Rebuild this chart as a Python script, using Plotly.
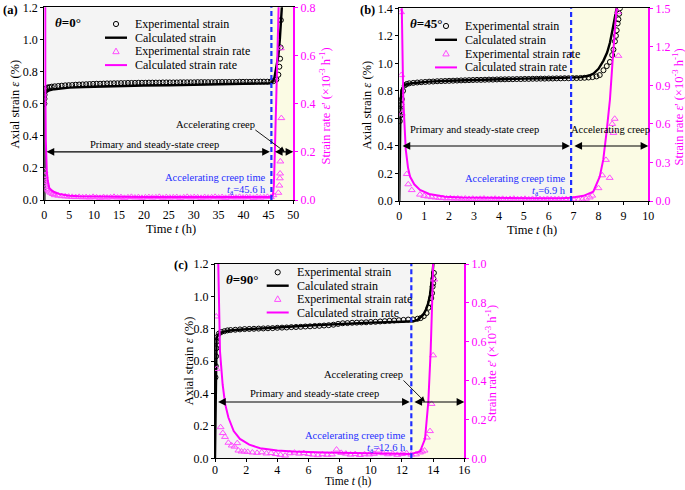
import plotly.graph_objects as go

# ---------------- data: panel (a) theta = 0 deg ----------------
T_EXP_A = [0.02, 0.04, 0.06, 0.08, 0.10, 0.3, 0.6, 1.0, 1.5,
           2.1, 2.8, 3.5, 4.2, 4.9, 5.6, 6.3, 7.0, 7.7,
           8.4, 9.1, 9.8, 10.5, 11.2, 11.9, 12.6, 13.3, 14.0,
           14.7, 15.4, 16.1, 16.8, 17.5, 18.2, 18.9, 19.6, 20.3,
           21.0, 21.7, 22.4, 23.1, 23.8, 24.5, 25.2, 25.9, 26.6,
           27.3, 28.0, 28.7, 29.4, 30.1, 30.8, 31.5, 32.2, 32.9,
           33.6, 34.3, 35.0, 35.7, 36.4, 37.1, 37.8, 38.5, 39.2,
           39.9, 40.6, 41.3, 42.0, 42.7, 43.4, 44.1, 44.8, 45.5,
           46.0, 46.6, 47.0, 47.2, 47.35, 47.45, 47.5]
STRAIN_EXP_A = [0.60, 0.63, 0.655, 0.675, 0.69, 0.695, 0.70, 0.703, 0.706,
                0.708, 0.710, 0.712, 0.714, 0.715, 0.716, 0.718, 0.719, 0.720,
                0.721, 0.722, 0.723, 0.724, 0.724, 0.725, 0.726, 0.726, 0.727,
                0.727, 0.728, 0.728, 0.729, 0.729, 0.729, 0.730, 0.730, 0.730,
                0.731, 0.731, 0.731, 0.731, 0.732, 0.732, 0.732, 0.732, 0.732,
                0.733, 0.733, 0.733, 0.733, 0.733, 0.734, 0.734, 0.734, 0.734,
                0.734, 0.734, 0.735, 0.735, 0.735, 0.735, 0.735, 0.735, 0.736,
                0.736, 0.736, 0.736, 0.736, 0.737, 0.737, 0.737, 0.737, 0.738,
                0.74, 0.75, 0.78, 0.83, 0.88, 0.95, 1.12]
T_CALC_A = [0, 0.02, 0.05, 0.1, 0.3, 0.5, 1, 2, 3, 5, 8, 12, 16, 20, 25, 30, 35,
            40, 44, 45.6, 46.2, 46.6, 47.0, 47.3, 47.5, 47.7, 47.9]
STRAIN_CALC_A = [0, 0.45, 0.64, 0.665, 0.672, 0.676, 0.683, 0.69, 0.694, 0.70, 0.704,
                 0.708, 0.711, 0.713, 0.715, 0.717, 0.719, 0.721, 0.723, 0.727, 0.76,
                 0.82, 0.90, 1.0, 1.1, 1.2, 1.3]
T_RATE_EXP_A = [0.05, 0.08, 0.12, 0.2, 0.3, 0.45, 0.6, 0.8, 1.0, 1.3, 1.7,
                2.1, 2.8, 3.5, 4.2, 4.9, 5.6, 6.3, 7.0, 7.7,
                8.4, 9.1, 9.8, 10.5, 11.2, 11.9, 12.6, 13.3, 14.0,
                14.7, 15.4, 16.1, 16.8, 17.5, 18.2, 18.9, 19.6, 20.3,
                21.0, 21.7, 22.4, 23.1, 23.8, 24.5, 25.2, 25.9, 26.6,
                27.3, 28.0, 28.7, 29.4, 30.1, 30.8, 31.5, 32.2, 32.9,
                33.6, 34.3, 35.0, 35.7, 36.4, 37.1, 37.8, 38.5, 39.2,
                39.9, 40.6, 41.3, 42.0, 42.7, 43.4, 44.1, 44.8, 45.5,
                46.0, 47.0, 47.2, 47.3, 47.35, 47.4, 47.5, 47.6]
RATE_EXP_A = [0.12, 0.10, 0.085, 0.075, 0.065, 0.055, 0.045, 0.04, 0.035, 0.03, 0.025,
              0.020, 0.018, 0.016, 0.015, 0.014, 0.013, 0.012, 0.013, 0.011,
              0.012, 0.010, 0.013, 0.011, 0.009, 0.012, 0.010, 0.011, 0.013,
              0.010, 0.012, 0.009, 0.011, 0.013, 0.010, 0.012, 0.009, 0.011,
              0.012, 0.010, 0.011, 0.013, 0.009, 0.012, 0.010, 0.011, 0.012,
              0.009, 0.011, 0.013, 0.010, 0.012, 0.011, 0.009, 0.012, 0.010,
              0.011, 0.013, 0.010, 0.012, 0.009, 0.011, 0.012, 0.010, 0.013,
              0.010, 0.012, 0.011, 0.009, 0.012, 0.010, 0.011, 0.013, 0.012,
              0.02, 0.03, 0.06, 0.09, 0.11, 0.16, 0.63, 0.34]
T_RATE_CALC_A = [0.05, 0.1, 0.15, 0.2, 0.3, 0.4, 0.5, 0.7, 1.0, 1.5, 2, 3, 4, 5, 7, 10,
                 15, 20, 25, 30, 35, 40, 45, 45.6, 45.9, 46.1, 46.3, 46.5, 46.7, 46.9,
                 47.1, 47.3]
RATE_CALC_A = [5.0, 1.5, 0.8, 0.5, 0.25, 0.17, 0.12, 0.08, 0.05, 0.04, 0.033, 0.025,
               0.021, 0.018, 0.016, 0.014, 0.013, 0.012, 0.012, 0.011, 0.011, 0.011,
               0.011, 0.012, 0.02, 0.06, 0.2, 0.35, 0.5, 0.65, 0.8, 1.0]

# ---------------- data: panel (b) theta = 45 deg ----------------
T_EXP_B = [0.02, 0.04, 0.06, 0.08, 0.10, 0.15, 0.22, 0.3, 0.4,
           0.56, 0.72, 0.88, 1.04, 1.20, 1.36, 1.52, 1.68,
           1.84, 2.00, 2.16, 2.32, 2.48, 2.64, 2.80, 2.96,
           3.12, 3.28, 3.44, 3.60, 3.76, 3.92, 4.08, 4.24,
           4.40, 4.56, 4.72, 4.88, 5.04, 5.20, 5.36, 5.52,
           5.68, 5.84, 6.00, 6.16, 6.32, 6.48, 6.64, 6.80,
           6.96, 7.12, 7.28, 7.44, 7.60, 7.76,
           7.92, 8.05, 8.2, 8.33, 8.46, 8.55, 8.6, 8.66, 8.7, 8.73, 8.77, 8.8, 8.83, 8.86]
STRAIN_EXP_B = [0.58, 0.62, 0.66, 0.70, 0.74, 0.80, 0.84, 0.85, 0.855,
                0.858, 0.861, 0.863, 0.865, 0.867, 0.868, 0.870, 0.871,
                0.872, 0.873, 0.874, 0.875, 0.876, 0.877, 0.878, 0.879,
                0.880, 0.880, 0.881, 0.882, 0.882, 0.883, 0.884, 0.884,
                0.885, 0.885, 0.886, 0.886, 0.887, 0.887, 0.888, 0.888,
                0.889, 0.889, 0.890, 0.890, 0.891, 0.891, 0.892, 0.892,
                0.893, 0.893, 0.894, 0.895, 0.897, 0.900,
                0.905, 0.915, 0.95, 0.98, 1.01, 1.06, 1.10, 1.16, 1.20, 1.24, 1.29, 1.32,
                1.36, 1.40]
T_CALC_B = [0, 0.02, 0.05, 0.08, 0.12, 0.2, 0.3, 0.5, 0.8, 1.2, 2, 3, 4, 5, 6, 6.9,
            7.3, 7.6, 7.8, 8.0, 8.2, 8.35, 8.46, 8.56, 8.66, 8.75, 8.85]
STRAIN_CALC_B = [0, 0.45, 0.72, 0.79, 0.82, 0.84, 0.848, 0.856, 0.862, 0.867, 0.874,
                 0.88, 0.885, 0.889, 0.892, 0.895, 0.90, 0.91, 0.926, 0.96, 1.02, 1.08,
                 1.15, 1.24, 1.34, 1.42, 1.52]
T_RATE_EXP_B = [0.07, 0.08, 0.1, 0.3, 0.36, 0.5, 0.83, 1.0, 1.15, 1.3, 1.45,
                1.60, 1.75, 1.90, 2.05, 2.20, 2.35, 2.50, 2.65, 2.80,
                2.95, 3.10, 3.25, 3.40, 3.55, 3.70, 3.85, 4.00, 4.15,
                4.30, 4.45, 4.60, 4.75, 4.90, 5.05, 5.20, 5.35, 5.50,
                5.65, 5.80, 5.95, 6.10, 6.25, 6.40, 6.55, 6.70, 6.85,
                7.00, 7.2, 7.35, 7.5, 7.65, 7.75, 8.0, 8.15, 8.3, 8.45, 8.55, 8.6,
                8.65, 8.78, 8.8]
RATE_EXP_B = [1.47, 0.98, 0.68, 0.21, 0.13, 0.085, 0.05, 0.04, 0.035, 0.03, 0.028,
              0.024, 0.022, 0.020, 0.022, 0.018, 0.020, 0.017, 0.019, 0.016,
              0.018, 0.015, 0.017, 0.019, 0.014, 0.016, 0.018, 0.015, 0.017,
              0.013, 0.016, 0.018, 0.014, 0.015, 0.017, 0.013, 0.016, 0.014,
              0.015, 0.012, 0.016, 0.014, 0.013, 0.015, 0.012, 0.014, 0.013,
              0.012, 0.010, 0.012, 0.018, 0.028, 0.042, 0.10, 0.20, 0.32, 0.18, 0.60,
              0.53, 0.64, 1.47, 1.13]
T_RATE_CALC_B = [0.04, 0.07, 0.1, 0.16, 0.26, 0.35, 0.43, 0.6, 0.83, 1.2, 1.84, 2.5,
                 3.5, 4.5, 5.5, 6.5, 6.9, 7.4, 7.79, 8.05, 8.19, 8.32, 8.46, 8.57, 8.65,
                 8.73, 8.8]
RATE_CALC_B = [4.0, 2.2, 1.5, 0.79, 0.40, 0.26, 0.19, 0.13, 0.086, 0.055, 0.034, 0.028,
               0.024, 0.022, 0.021, 0.022, 0.025, 0.04, 0.072, 0.19, 0.32, 0.53, 0.79,
               1.1, 1.3, 1.51, 1.7]

# ---------------- data: panel (c) theta = 90 deg ----------------
T_EXP_C = [0.03, 0.05, 0.07, 0.09, 0.11, 0.15, 0.25, 0.4, 0.6, 0.8,
           1.0, 1.3, 1.6, 1.9, 2.2, 2.5, 2.8, 3.1,
           3.4, 3.7, 4.0, 4.3, 4.6, 4.9, 5.2, 5.5,
           5.8, 6.1, 6.4, 6.7, 7.0, 7.3, 7.6, 7.9,
           8.2, 8.5, 8.8, 9.1, 9.4, 9.7, 10.0, 10.3,
           10.6, 10.9, 11.2, 11.5, 11.8, 12.1, 12.4, 12.7,
           13.0, 13.2, 13.4, 13.58, 13.7, 13.8, 13.88, 13.93, 13.97, 14.0, 14.02, 14.05]
STRAIN_EXP_C = [0.50, 0.57, 0.63, 0.68, 0.72, 0.75, 0.77, 0.78, 0.785, 0.79,
                0.792, 0.794, 0.796, 0.798, 0.799, 0.800, 0.801, 0.802,
                0.803, 0.804, 0.806, 0.807, 0.808, 0.810, 0.811, 0.812,
                0.814, 0.815, 0.817, 0.818, 0.820, 0.822, 0.825, 0.830,
                0.834, 0.835, 0.837, 0.838, 0.839, 0.840, 0.842, 0.843,
                0.845, 0.847, 0.849, 0.851, 0.853, 0.855, 0.857, 0.858,
                0.862, 0.866, 0.878, 0.897, 0.93, 0.96, 0.99, 1.02, 1.06, 1.08, 1.11, 1.145]
T_CALC_C = [0, 0.03, 0.06, 0.1, 0.2, 0.32, 0.6, 0.96, 1.5, 2.9, 4, 6, 8, 10, 12, 12.73,
            13.0, 13.37, 13.55, 13.69, 13.8, 13.9, 13.97, 14.03, 14.1]
STRAIN_CALC_C = [0, 0.4, 0.65, 0.74, 0.765, 0.773, 0.782, 0.789, 0.794, 0.80, 0.808,
                 0.82, 0.83, 0.838, 0.843, 0.846, 0.855, 0.887, 0.92, 0.96, 1.01, 1.08,
                 1.15, 1.22, 1.3]
T_RATE_EXP_C = [0.08, 0.1, 0.36, 0.5, 0.64, 0.86, 1.07, 1.25, 1.43, 1.5, 1.7, 1.9,
                2.1, 2.4, 2.7, 3.0, 3.3, 3.6, 3.9, 4.2, 4.5,
                4.8, 5.1, 5.4, 5.7, 6.0, 6.3, 6.6, 6.9, 7.2,
                7.5, 7.8, 8.1, 8.4, 8.7, 9.0, 9.3, 9.6, 9.9,
                10.2, 10.5, 10.8, 11.1, 11.4, 11.7, 12.0, 12.3, 12.6,
                12.9, 13.16, 13.3, 13.45, 13.6, 13.8, 13.9, 14.0, 14.07]
RATE_EXP_C = [0.73, 0.46, 0.16, 0.13, 0.11, 0.08, 0.066, 0.06, 0.078, 0.04, 0.035, 0.035,
              0.033, 0.030, 0.028, 0.031, 0.025, 0.027, 0.022, 0.018, 0.014,
              0.026, 0.029, 0.024, 0.027, 0.022, 0.019, 0.016, 0.021, 0.018,
              0.020, 0.045, 0.028, 0.024, 0.019, 0.022, 0.017, 0.021, 0.020,
              0.023, 0.040, 0.026, 0.021, 0.024, 0.018, 0.022, 0.026, 0.019,
              0.02, 0.03, 0.035, 0.04, 0.107, 0.14, 0.28, 0.53, 0.92]
T_RATE_CALC_C = [0.1, 0.21, 0.32, 0.49, 0.65, 0.86, 1.2, 1.6, 2.2, 2.9, 4, 5, 7, 9, 11,
                 12.6, 13.16, 13.48, 13.69, 13.84, 13.94, 14.0, 14.06]
RATE_CALC_C = [3.0, 1.0, 0.55, 0.38, 0.28, 0.21, 0.14, 0.10, 0.07, 0.052, 0.04, 0.035,
               0.03, 0.027, 0.025, 0.022, 0.035, 0.10, 0.29, 0.55, 0.81, 1.0, 1.2]

# accelerating creep times
TA = [45.6, 6.9, 12.6]
THETA_LABELS = ["0°", "45°", "90°"]
PANEL_LABELS = ["(a)", "(b)", "(c)"]

# ticks
X_TICKS = [[0, 5, 10, 15, 20, 25, 30, 35, 40, 45, 50],
           [0, 1, 2, 3, 4, 5, 6, 7, 8, 9, 10],
           [0, 2, 4, 6, 8, 10, 12, 14, 16]]
Y_TICKS = [[0.0, 0.2, 0.4, 0.6, 0.8, 1.0, 1.2],
           [0.0, 0.2, 0.4, 0.6, 0.8, 1.0, 1.2, 1.4],
           [0.0, 0.2, 0.4, 0.6, 0.8, 1.0, 1.2]]
Y2_TICKS = [[0.0, 0.2, 0.4, 0.6, 0.8],
            [0.0, 0.3, 0.6, 0.9, 1.2, 1.5],
            [0.0, 0.2, 0.4, 0.6, 0.8, 1.0]]
X_RANGES = [[0, 50], [0, 10], [0, 16]]
Y_RANGES = [[0, 1.2], [0, 1.4], [0, 1.2]]
Y2_RANGES = [[0, 0.8], [0, 1.5], [0, 1.0]]

# ---------------- styling / layout helpers ----------------
W, H = 685, 490
FONT = "Liberation Serif, Times New Roman, serif"
MAG = "#ff00ff"
TRI = "#ff4dff"
BLUE = "#1f2fff"
GRAY_BG = "#f4f4f4"
YEL_BG = "#fbfbe4"


def px(x):
    return x / W


def py(y):
    return 1 - y / H


# plot-area boxes in pixels: (left, right, top, bottom)
BOXES = [(44.3, 293.3, 7.3, 200.0),
         (399.3, 648.3, 8.3, 201.0),
         (215.0, 464.3, 264.0, 458.3)]
PANEL_LABEL_POS = [(0.5, 10), (357.5, 10), (171.5, 265)]
LEFT_TITLE_DX = [-29.5, -32.5, -26.0]
RIGHT_TITLE_DX = [31.5, 29.5, 26.5]
XTITLE_DX = [2.5, 8.5, 8.0]
XTITLE_DY = [29.5, 29.0, None]   # panel (c): title sits on the bottom edge
XTICK_STANDOFF = [0, 0, -3]

data = [
    (T_EXP_A, STRAIN_EXP_A, T_CALC_A, STRAIN_CALC_A, T_RATE_EXP_A, RATE_EXP_A, T_RATE_CALC_A, RATE_CALC_A),
    (T_EXP_B, STRAIN_EXP_B, T_CALC_B, STRAIN_CALC_B, T_RATE_EXP_B, RATE_EXP_B, T_RATE_CALC_B, RATE_CALC_B),
    (T_EXP_C, STRAIN_EXP_C, T_CALC_C, STRAIN_CALC_C, T_RATE_EXP_C, RATE_EXP_C, T_RATE_CALC_C, RATE_CALC_C),
]

fig = go.Figure()
layout = {}
shapes = []
annotations = []

for i in range(3):
    xn = "x" if i == 0 else f"x{i + 1}"
    yl = "y" if i == 0 else f"y{2 * i + 1}"
    yr = f"y{2 * i + 2}"
    xkey = "xaxis" if i == 0 else f"xaxis{i + 1}"
    ylkey = "yaxis" if i == 0 else f"yaxis{2 * i + 1}"
    yrkey = f"yaxis{2 * i + 2}"
    L, R, T, B = BOXES[i]
    te, se, tc, sc, tre, re, trc, rc = data[i]

    fig.add_trace(go.Scatter(x=te, y=se, xaxis=xn, yaxis=yl, mode="markers",
                             marker=dict(symbol="circle-open", size=5, color="black",
                                         line=dict(width=1, color="black")),
                             showlegend=False))
    fig.add_trace(go.Scatter(x=tc, y=sc, xaxis=xn, yaxis=yl, mode="lines",
                             line=dict(color="black", width=2.4), showlegend=False))
    fig.add_trace(go.Scatter(x=tre, y=re, xaxis=xn, yaxis=yr, mode="markers",
                             marker=dict(symbol="triangle-up-open", size=6, color=TRI,
                                         line=dict(width=1, color=TRI)),
                             showlegend=False))
    fig.add_trace(go.Scatter(x=trc, y=rc, xaxis=xn, yaxis=yr, mode="lines",
                             line=dict(color=MAG, width=2), showlegend=False))

    tickfont = dict(family=FONT, size=12, color="black")
    layout[xkey] = dict(domain=[px(L), px(R)], anchor=yl, range=X_RANGES[i],
                        tickvals=X_TICKS[i], ticktext=[str(v) for v in X_TICKS[i]],
                        showline=True, linecolor="black", linewidth=1.2, mirror=True,
                        ticks="outside", ticklen=3, tickwidth=1, tickcolor="black",
                        ticklabelstandoff=XTICK_STANDOFF[i],
                        tickfont=tickfont, showgrid=False, zeroline=False,
                        automargin=False)
    layout[ylkey] = dict(domain=[py(B), py(T)], anchor=xn, range=Y_RANGES[i],
                         tickvals=Y_TICKS[i], tickformat=".1f",
                         showline=True, linecolor="black", linewidth=1.2,
                         ticks="outside", ticklen=3, tickwidth=1, tickcolor="black",
                         tickfont=tickfont, showgrid=False, zeroline=False,
                         automargin=False)
    layout[yrkey] = dict(domain=[py(B), py(T)], anchor=xn, overlaying=yl, side="right",
                         range=Y2_RANGES[i], tickvals=Y2_TICKS[i], tickformat=".1f",
                         showline=True, linecolor=MAG, linewidth=1.6,
                         ticks="outside", ticklen=3, tickwidth=1, tickcolor=MAG,
                         tickfont=dict(family=FONT, size=12, color=MAG),
                         showgrid=False, zeroline=False, automargin=False)

    ta = TA[i]
    # background shading
    shapes.append(dict(type="rect", xref=xn, yref=f"{yl} domain", x0=X_RANGES[i][0], x1=ta,
                       y0=0, y1=1, fillcolor=GRAY_BG, line=dict(width=0), layer="below"))
    shapes.append(dict(type="rect", xref=xn, yref=f"{yl} domain", x0=ta, x1=X_RANGES[i][1],
                       y0=0, y1=1, fillcolor=YEL_BG, line=dict(width=0), layer="below"))
    # dashed line at accelerating creep time
    shapes.append(dict(type="line", xref=xn, yref=f"{yl} domain", x0=ta, x1=ta, y0=0, y1=1,
                       line=dict(color=BLUE, width=2.2, dash="5px,3px"), layer="above"))

    # axis titles
    cx = (L + R) / 2
    cy = (T + B) / 2
    if XTITLE_DY[i] is None:
        annotations.append(dict(x=px(cx + XTITLE_DX[i]), y=0, xref="paper", yref="paper",
                                text="Time <i>t</i> (h)", showarrow=False,
                                font=dict(family=FONT, size=11.5, color="black"),
                                xanchor="center", yanchor="bottom"))
    else:
        annotations.append(dict(x=px(cx + XTITLE_DX[i]), y=py(B + XTITLE_DY[i]), xref="paper",
                                yref="paper", text="Time <i>t</i> (h)", showarrow=False,
                                font=dict(family=FONT, size=12.5, color="black"),
                                xanchor="center", yanchor="middle"))
    annotations.append(dict(x=px(L + LEFT_TITLE_DX[i]), y=py(cy), xref="paper", yref="paper",
                            text="Axial strain <i>ε</i> (%)", showarrow=False, textangle=-90,
                            font=dict(family=FONT, size=12.5, color="black"),
                            xanchor="center", yanchor="middle"))
    annotations.append(dict(x=px(R + RIGHT_TITLE_DX[i]), y=py(cy + 2), xref="paper",
                            yref="paper",
                            text="Strain rate <i>ε</i>' (×10<sup>-3</sup> h<sup>-1</sup>)",
                            showarrow=False, textangle=-90,
                            font=dict(family=FONT, size=12.5, color=MAG),
                            xanchor="center", yanchor="middle"))
    # panel label and theta
    lx, ly = PANEL_LABEL_POS[i]
    annotations.append(dict(x=px(lx), y=py(ly), xref="paper", yref="paper",
                            text=f"<b>{PANEL_LABELS[i]}</b>",
                            showarrow=False, font=dict(family=FONT, size=12.5, color="black"),
                            xanchor="left", yanchor="middle"))
    annotations.append(dict(x=px(L + 9), y=py(T + 15), xref="paper", yref="paper",
                            text=f"<b><i>θ</i>={THETA_LABELS[i]}</b>", showarrow=False,
                            font=dict(family=FONT, size=13, color="black"),
                            xanchor="left", yanchor="middle"))
    # blue texts
    dash_px = L + (R - L) * (ta - X_RANGES[i][0]) / (X_RANGES[i][1] - X_RANGES[i][0])
    annotations.append(dict(x=px(dash_px - 3), y=py(B - 23), xref="paper", yref="paper",
                            text="Accelerating creep time", showarrow=False,
                            font=dict(family=FONT, size=10.5, color=BLUE),
                            xanchor="right", yanchor="middle"))
    annotations.append(dict(x=px(dash_px - 3), y=py(B - 9.5), xref="paper", yref="paper",
                            text=f"<i>t</i><sub>a</sub>={ta} h", showarrow=False,
                            font=dict(family=FONT, size=10.5, color=BLUE),
                            xanchor="right", yanchor="middle"))

    # legend (drawn by hand)
    leg_x = [105, 435, 266.7][i]
    leg_y0 = [24, 26, 272.3][i]
    step = [13.7, 13.8, 13.4][i]
    ys = [leg_y0 + k * step for k in range(4)]
    mx = leg_x + 11
    tx = leg_x + 28
    shapes.append(dict(type="circle", xref="paper", yref="paper", xsizemode="pixel",
                       ysizemode="pixel", xanchor=px(mx), yanchor=py(ys[0]),
                       x0=-2.6, x1=2.6, y0=-2.6, y1=2.6,
                       line=dict(color="black", width=1), layer="above"))
    shapes.append(dict(type="line", xref="paper", yref="paper", x0=px(leg_x), x1=px(leg_x + 22),
                       y0=py(ys[1]), y1=py(ys[1]), line=dict(color="black", width=2.4),
                       layer="above"))
    shapes.append(dict(type="path", xref="paper", yref="paper", xsizemode="pixel",
                       ysizemode="pixel", xanchor=px(mx), yanchor=py(ys[2]),
                       path="M -3.2,-2.3 L 3.2,-2.3 L 0,3.3 Z",
                       line=dict(color=TRI, width=1), layer="above"))
    shapes.append(dict(type="line", xref="paper", yref="paper", x0=px(leg_x), x1=px(leg_x + 22),
                       y0=py(ys[3]), y1=py(ys[3]), line=dict(color=MAG, width=2),
                       layer="above"))
    for k, txt in enumerate(["Experimental strain", "Calculated strain",
                             "Experimental strain rate", "Calculated strain rate"]):
        annotations.append(dict(x=px(tx), y=py(ys[k]), xref="paper", yref="paper", text=txt,
                                showarrow=False, font=dict(family=FONT, size=12, color="black"),
                                xanchor="left", yanchor="middle"))


def arrow2(xref, yref, x0, x1, yv):
    return dict(x=x1, y=yv, ax=x0, ay=yv, xref=xref, yref=yref, axref=xref, ayref=yref,
                text="", showarrow=True, arrowhead=2, arrowside="end+start",
                arrowsize=1.4, arrowwidth=1.1, arrowcolor="black", standoff=0,
                startstandoff=0)


# region arrows
annotations += [
    arrow2("x", "y2", 0.15, 45.3, 0.2), arrow2("x", "y2", 46.0, 50.0, 0.2),
    arrow2("x2", "y3", 0.07, 6.85, 0.40), arrow2("x2", "y3", 6.97, 10.0, 0.40),
    arrow2("x3", "y6", 0.1, 12.5, 0.29), arrow2("x3", "y6", 12.7, 16.0, 0.29),
]

TXT = dict(family=FONT, size=10.5, color="black")


def label(xp, yp, text):
    return dict(x=px(xp), y=py(yp), xref="paper", yref="paper", text=text,
                showarrow=False, font=TXT, xanchor="center", yanchor="middle")


# region labels
annotations += [
    label(154.5, 144, "Primary and steady-state creep"),
    label(215, 125, "Accelerating creep"),
    label(474, 129.3, "Primary and steady-state creep"),
    label(610.7, 129.3, "Accelerating creep"),
    label(314, 393.3, "Primary and steady-state creep"),
    label(363, 374, "Accelerating creep"),
    # pointers from label to the arrow line
    dict(x=48.3, y=0.2, xref="x", yref="y2", ax=-31, ay=-23, text="", showarrow=True,
         arrowhead=2, arrowsize=1.2, arrowwidth=0.9, arrowcolor="black"),
    dict(x=13.48, y=0.29, xref="x3", yref="y6", ax=-23, ay=-23, text="", showarrow=True,
         arrowhead=2, arrowsize=1.2, arrowwidth=0.9, arrowcolor="black"),
]

fig.update_layout(
    template="none",
    width=W, height=H,
    margin=dict(l=0, r=0, t=0, b=0, pad=0, autoexpand=False),
    paper_bgcolor="white", plot_bgcolor="white",
    showlegend=False,
    shapes=shapes, annotations=annotations,
    font=dict(family=FONT, size=12, color="black"),
    **layout,
)

fig.write_html("out.html", config={"displayModeBar": False},
               post_script="document.body.style.margin='0px';")
